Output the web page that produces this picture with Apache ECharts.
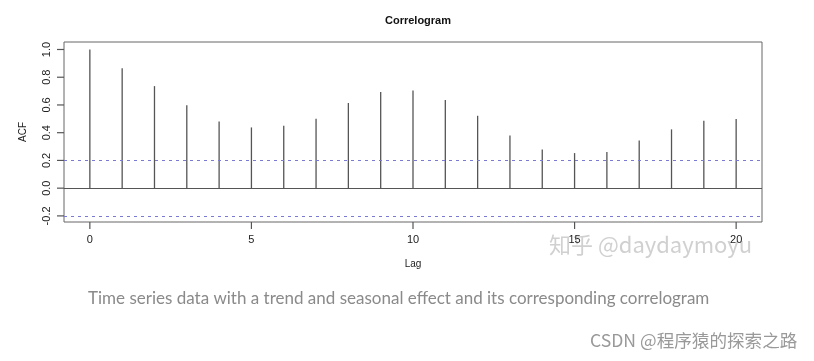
<!DOCTYPE html>
<html><head><meta charset="utf-8">
<script src="https://cdn.jsdelivr.net/npm/echarts@6/dist/echarts.min.js"></script>
<style>html,body{margin:0;padding:0;background:#fff;}#c{width:814px;height:361px;}</style>
</head><body><div id="c"></div>
<script>
const lags = [0,1,2,3,4,5,6,7,8,9,10,11,12,13,14,15,16,17,18,19,20];
const acfValues = [1.0,0.864,0.736,0.597,0.481,0.438,0.45,0.50,0.614,0.693,0.705,0.635,0.522,0.379,0.279,0.253,0.26,0.344,0.424,0.486,0.498];
const ciLimit = 0.196;
const xTicks = [0,5,10,15,20];
const yTicks = [-0.2,0.0,0.2,0.4,0.6,0.8,1.0];
const titleText = 'Correlogram';
const captionText = 'Time series data with a trend and seasonal effect and its corresponding correlogram';
const creditText = 'CSDN @程序猿的探索之路';
const watermarkText = '知乎 @daydaymoyu';

const chart = echarts.init(document.getElementById('c'));
const data = lags.map((l,i)=>[l, acfValues[i]]);
const font = '"Liberation Sans", Arial, sans-serif';
const xMin = -0.8, xMax = 20.8, yMin = -0.244, yMax = 1.054;
const gL = 64, gR = 52, gT = 42, gB = 139;
const W = 814, H = 361;
const plotW = W - gL - gR, plotH = H - gT - gB;
const tL = gL + (xTicks[0]-xMin)/(xMax-xMin)*plotW;
const tR = gR + (xMax-xTicks[xTicks.length-1])/(xMax-xMin)*plotW;
const tT = gT + (yMax-yTicks[yTicks.length-1])/(yMax-yMin)*plotH;
const tB = gB + (yTicks[0]-yMin)/(yMax-yMin)*plotH;
const tickLen = 7;

chart.setOption({
  animation:false,
  backgroundColor:'#fff',
  title:{text:titleText,left:380,top:10,
    textStyle:{fontFamily:font,fontSize:11,fontWeight:'bold',color:'#111'}},
  grid:[
    {left:gL,right:gR,top:gT,bottom:gB,show:true,borderColor:'#666',borderWidth:1,backgroundColor:'transparent'},
    {left:tL,right:tR,top:tT,bottom:tB,show:false}
  ],
  xAxis:[
    {gridIndex:0,type:'value',min:xMin,max:xMax,
      name:'Lag',nameLocation:'middle',nameGap:37,
      nameTextStyle:{fontFamily:font,fontSize:10,color:'#222'},
      axisLine:{show:false,onZero:false},splitLine:{show:false},axisTick:{show:false},axisLabel:{show:false}},
    {gridIndex:1,type:'value',min:xTicks[0],max:xTicks[xTicks.length-1],interval:5,position:'bottom',
      offset:tB-gB,
      axisLine:{show:false,onZero:false},splitLine:{show:false},axisTick:{show:false},
      axisLabel:{margin:12,fontFamily:font,fontSize:11,color:'#222'}}
  ],
  yAxis:[
    {gridIndex:0,type:'value',min:yMin,max:yMax,
      name:'ACF',nameLocation:'middle',nameGap:36,nameRotate:90,
      nameTextStyle:{fontFamily:font,fontSize:10,color:'#222'},
      axisLine:{show:false,onZero:false},splitLine:{show:false},axisTick:{show:false},axisLabel:{show:false}},
    {gridIndex:1,type:'value',min:yTicks[0],max:yTicks[yTicks.length-1],interval:0.2,position:'left',
      offset:tL-gL,
      axisLine:{show:false,onZero:false},splitLine:{show:false},axisTick:{show:false},
      axisLabel:{rotate:90,margin:12,fontFamily:font,fontSize:11,color:'#222',formatter:v=>v.toFixed(1)}}
  ],
  series:[
    {
      type:'custom',xAxisIndex:0,yAxisIndex:0,
      data:data,
      renderItem:function(params,api){
        const p0 = api.coord([api.value(0),0]);
        const p1 = api.coord([api.value(0),api.value(1)]);
        return {type:'line',shape:{x1:p0[0],y1:p0[1],x2:p1[0],y2:p1[1]},
          style:{stroke:'#555',lineWidth:1.3}};
      },
      markLine:{silent:true,symbol:'none',label:{show:false},
        data:[
          {yAxis:0,lineStyle:{color:'#555',type:'solid',width:1.2}},
          {yAxis:ciLimit,lineStyle:{color:'#7a7ad2',type:[3,4],width:1.2}},
          {yAxis:-ciLimit,lineStyle:{color:'#7a7ad2',type:[3,4],width:1.2}}
        ]}
    },
    {
      // x-axis tick marks below the box
      type:'custom',xAxisIndex:0,yAxisIndex:0,clip:false,silent:true,
      data:xTicks.map(v=>[v,yMin]),
      renderItem:function(params,api){
        const p = api.coord([api.value(0),api.value(1)]);
        return {type:'line',shape:{x1:p[0],y1:p[1],x2:p[0],y2:p[1]+tickLen},
          style:{stroke:'#555',lineWidth:1.2}};
      }
    },
    {
      // y-axis tick marks left of the box
      type:'custom',xAxisIndex:0,yAxisIndex:0,clip:false,silent:true,
      data:yTicks.map(v=>[xMin,v]),
      renderItem:function(params,api){
        const p = api.coord([api.value(0),api.value(1)]);
        return {type:'line',shape:{x1:p[0],y1:p[1],x2:p[0]-tickLen,y2:p[1]},
          style:{stroke:'#555',lineWidth:1.2}};
      }
    }
  ],
  graphic:[
    {type:'text',left:549,top:234,style:{text:watermarkText,fontFamily:'"Noto Sans CJK SC", "Noto Sans", sans-serif',fontSize:22,fill:'rgba(170,170,170,0.55)'}},
    {type:'text',left:88,top:290,style:{text:captionText,fontFamily:'Lato, "Noto Sans", sans-serif',fontSize:17,fill:'#8a8a8a'}},
    {type:'text',left:590,top:332,style:{text:creditText,fontFamily:'"Noto Sans CJK SC", sans-serif',fontSize:17.6,fill:'#999'}}
  ]
});
</script></body></html>
